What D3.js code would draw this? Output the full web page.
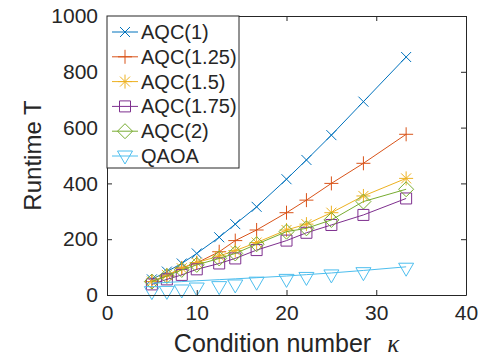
<!DOCTYPE html>
<html>
<head>
<meta charset="utf-8">
<script src="https://cdn.jsdelivr.net/npm/d3@7"></script>
<style>
  body { margin: 0; background: #fff; }
  text { font-family: "Liberation Sans", Arial, Helvetica, sans-serif; fill: #262626; }
</style>
</head>
<body>
<svg id="chart" width="481" height="358"></svg>
<script>
// condition numbers (x)
var kappa = [5, 6.67, 8.33, 10, 12.5, 14.29, 16.67, 20, 22.22, 25, 28.57, 33.33];

// runtime per method
var aqc1   = [56, 84, 113, 149, 207, 254, 316, 415, 484, 573, 693, 853];
var aqc125 = [48, 68, 97, 115, 155, 195, 233, 295, 340, 400, 472, 576];
var aqc15  = [48, 72, 96, 116, 140, 159, 188, 233, 254, 295, 355, 418];
var aqc175 = [38, 56, 72, 92, 113, 131, 161, 195, 223, 251, 287, 346];
var aqc2   = [48, 68, 90, 108, 131, 149, 182, 227, 239, 269, 335, 379];
var qaoa   = [12, 13, 18, 25, 30, 36, 46, 56, 63, 72, 80, 96];
var qaoaFit = [42, 45, 48, 51, 55, 58, 62, 68, 73, 79, 88, 101];

var xTicks = [0, 10, 20, 30, 40];
var yTicks = [0, 200, 400, 600, 800, 1000];

var series = [
  { name: 'AQC(1)',    values: aqc1,   line: aqc1,    color: '#0072BD', marker: 'x' },
  { name: 'AQC(1.25)', values: aqc125, line: aqc125,  color: '#D95319', marker: 'plus' },
  { name: 'AQC(1.5)',  values: aqc15,  line: aqc15,   color: '#EDB120', marker: 'star' },
  { name: 'AQC(1.75)', values: aqc175, line: aqc175,  color: '#7E2F8E', marker: 'square' },
  { name: 'AQC(2)',    values: aqc2,   line: aqc2,    color: '#77AC30', marker: 'diamond' },
  { name: 'QAOA',      values: qaoa,   line: qaoaFit, color: '#4DBEEE', marker: 'tri' }
];

var svg = d3.select('#chart');
var margin = { left: 107, right: 15, top: 16, bottom: 63 };
var W = 481 - margin.left - margin.right;
var H = 358 - margin.top - margin.bottom;

var x = d3.scaleLinear().domain([0, 40]).range([0, W]);
var y = d3.scaleLinear().domain([0, 1000]).range([H, 0]);

var g = svg.append('g').attr('transform', 'translate(' + margin.left + ',' + margin.top + ')');

// markers as path strings around 0,0
function markerPath(type) {
  switch (type) {
    case 'x': return 'M-5,-5L5,5M-5,5L5,-5';
    case 'plus': return 'M-7,0L7,0M0,-7L0,7';
    case 'star': return 'M-7,0L7,0M0,-7L0,7M-5,-5L5,5M-5,5L5,-5';
    case 'square': return 'M-5.5,-5.5H5.5V5.5H-5.5Z';
    case 'diamond': return 'M0,-7.5L7.5,0L0,7.5L-7.5,0Z';
    case 'tri': return 'M-7.5,-5L7.5,-5L0,8Z';
  }
}

var line = d3.line().x(function(d) { return x(d[0]); }).y(function(d) { return y(d[1]); });

series.forEach(function(s) {
  g.append('path')
    .datum(kappa.map(function(k, i) { return [k, s.line[i]]; }))
    .attr('d', line)
    .attr('fill', 'none')
    .attr('stroke', s.color)
    .attr('stroke-width', 1);
  g.selectAll(null)
    .data(kappa.map(function(k, i) { return [k, s.values[i]]; }))
    .enter().append('path')
    .attr('transform', function(d) { return 'translate(' + x(d[0]) + ',' + y(d[1]) + ')'; })
    .attr('d', markerPath(s.marker))
    .attr('fill', 'none')
    .attr('stroke', s.color)
    .attr('stroke-width', 1);
});

// axes (box with inward ticks)
var fmt = d3.format('d');
var xAxis = d3.axisBottom(x).tickValues(xTicks).tickFormat(fmt).tickSizeInner(-5).tickSizeOuter(0).tickPadding(10);
var yAxis = d3.axisLeft(y).tickValues(yTicks).tickFormat(fmt).tickSizeInner(-5).tickSizeOuter(0).tickPadding(9);

g.append('g').attr('transform', 'translate(0,' + H + ')').call(xAxis);
g.append('g').call(yAxis);
g.append('g').call(d3.axisTop(x).tickValues(xTicks).tickSizeInner(-5).tickSizeOuter(0).tickFormat(''));
g.append('g').attr('transform', 'translate(' + W + ',0)')
  .call(d3.axisRight(y).tickValues(yTicks).tickSizeInner(-5).tickSizeOuter(0).tickFormat(''));

g.selectAll('.domain').attr('stroke', '#262626');
g.selectAll('.tick line').attr('stroke', '#262626');
g.selectAll('.tick text').style('font-size', '21px').attr('fill', '#262626');

// axis labels
var xl = svg.append('text')
  .attr('x', margin.left + W / 2)
  .attr('y', 352)
  .attr('text-anchor', 'middle')
  .style('font-size', '25px');
xl.append('tspan').text('Condition number');
xl.append('tspan')
  .attr('dx', 16)
  .style('font-family', '"Liberation Serif", serif')
  .style('font-style', 'italic')
  .text('κ');

svg.append('text')
  .attr('transform', 'translate(41,' + (margin.top + H / 2) + ') rotate(-90)')
  .attr('text-anchor', 'middle')
  .style('font-size', '24px')
  .text('Runtime T');

// legend
var leg = g.append('g');
leg.append('rect')
  .attr('x', 0).attr('y', 0).attr('width', 132).attr('height', 152)
  .attr('fill', '#fff').attr('stroke', '#262626').attr('stroke-width', 1);

series.forEach(function(s, i) {
  var ly = 16 + i * 24.8;
  leg.append('line').attr('x1', 5).attr('x2', 31).attr('y1', ly).attr('y2', ly)
    .attr('stroke', s.color).attr('stroke-width', 1);
  leg.append('path').attr('transform', 'translate(18,' + ly + ')')
    .attr('d', markerPath(s.marker)).attr('fill', 'none')
    .attr('stroke', s.color).attr('stroke-width', 1);
  leg.append('text').attr('x', 34).attr('y', ly + 7)
    .style('font-size', '20px').text(s.name);
});
</script>
</body>
</html>
